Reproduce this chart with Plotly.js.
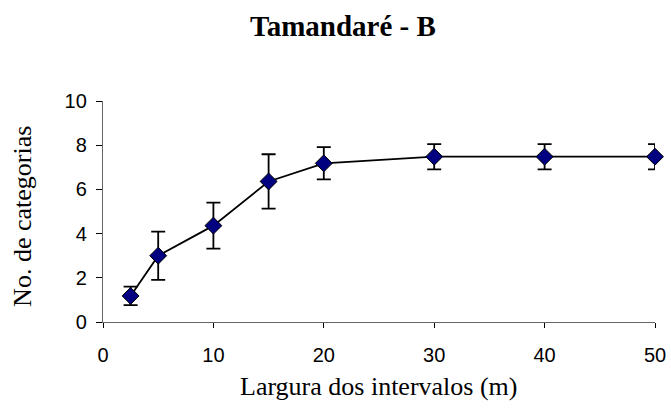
<!DOCTYPE html>
<html>
<head>
<meta charset="utf-8">
<script src="https://cdn.plot.ly/plotly-3.0.1.min.js"></script>
<style>html,body{margin:0;padding:0;background:#fff;}#chart{width:671px;height:414px;}</style>
</head>
<body>
<div id="chart"></div>
<script>
var widths = [2.5, 5, 10, 15, 20, 30, 40, 50];
var categories = [1.18, 3.0, 4.36, 6.36, 7.18, 7.48, 7.48, 7.48];
var errors = [0.42, 1.09, 1.04, 1.23, 0.73, 0.57, 0.57, 0.57];
var xTicks = [0, 10, 20, 30, 40, 50];
var yTicks = [0, 2, 4, 6, 8, 10];

var trace = {
  x: widths,
  y: categories,
  type: 'scatter',
  mode: 'lines+markers',
  cliponaxis: false,
  line: {color: '#000000', width: 1.8},
  marker: {symbol: 'diamond', size: 13, color: '#000080', line: {color: '#000000', width: 1}},
  error_y: {type: 'data', array: errors, visible: true, color: '#000000', thickness: 1.8, width: 7}
};

var layout = {
  width: 671, height: 414,
  margin: {l: 103, r: 16, t: 101, b: 92, pad: 0},
  paper_bgcolor: '#ffffff', plot_bgcolor: '#ffffff',
  showlegend: false,
  title: {
    text: '<b>Tamandaré - B</b>',
    font: {family: 'Liberation Serif, Times New Roman, serif', size: 29, color: '#000'},
    xref: 'container', x: 0.511, xanchor: 'center',
    yref: 'container', y: 1 - 26/414, yanchor: 'middle'
  },
  xaxis: {
    range: [0, 50], tickvals: xTicks, ticktext: xTicks.map(String),
    showgrid: false, zeroline: false, showline: true, linecolor: '#666666', linewidth: 1.2,
    ticks: 'outside', ticklen: 5, tickcolor: '#000', tickwidth: 1,
    ticklabelstandoff: 10,
    tickfont: {family: 'Liberation Sans, Arial, sans-serif', size: 20, color: '#000'}
  },
  yaxis: {
    range: [0, 10], tickvals: yTicks, ticktext: yTicks.map(String),
    showgrid: false, zeroline: false, showline: true, linecolor: '#666666', linewidth: 1.2,
    ticks: 'outside', ticklen: 6, tickcolor: '#000', tickwidth: 1,
    ticklabelstandoff: 5,
    tickfont: {family: 'Liberation Sans, Arial, sans-serif', size: 20, color: '#000'}
  },
  annotations: [
    {text: 'Largura dos intervalos (m)', xref: 'paper', yref: 'paper', x: 0.5, y: -0.29,
     xanchor: 'center', yanchor: 'middle', showarrow: false,
     font: {family: 'Liberation Serif, Times New Roman, serif', size: 26, color: '#000'}},
    {text: 'No. de categorias', xref: 'paper', yref: 'paper', x: -0.145, y: 0.48,
     xanchor: 'center', yanchor: 'middle', showarrow: false, textangle: -90,
     font: {family: 'Liberation Serif, Times New Roman, serif', size: 26, color: '#000'}}
  ]
};

Plotly.newPlot('chart', [trace], layout, {displayModeBar: false, staticPlot: true});
</script>
</body>
</html>
